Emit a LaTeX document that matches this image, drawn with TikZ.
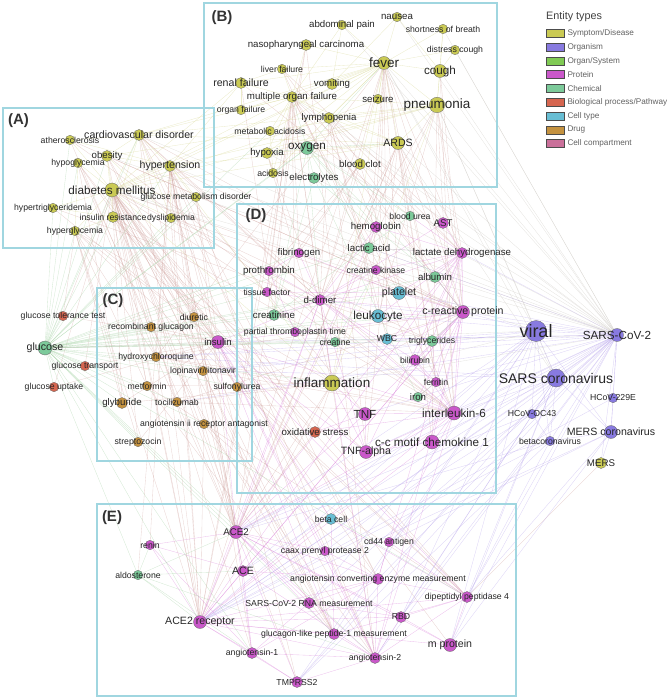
\documentclass[tikz,border=0pt]{standalone}
\usepackage{fontspec}
\setmainfont{Liberation Sans}
\usetikzlibrary{positioning}
\pgfdeclarelayer{bg}
\pgfsetlayers{bg,main}
\definecolor{symcol}{RGB}{202,202,84}
\definecolor{orgcol}{RGB}{136,122,224}
\definecolor{organcol}{RGB}{128,202,84}
\definecolor{protcol}{RGB}{202,88,202}
\definecolor{chemcol}{RGB}{124,202,154}
\definecolor{biocol}{RGB}{214,102,80}
\definecolor{cellcol}{RGB}{104,190,212}
\definecolor{drugcol}{RGB}{196,146,64}
\definecolor{compcol}{RGB}{202,112,154}
\definecolor{panelcol}{RGB}{160,214,224}
\definecolor{eYcol}{RGB}{212,212,140}
\definecolor{eBcol}{RGB}{206,160,156}
\definecolor{ePcol}{RGB}{214,120,214}
\definecolor{eVcol}{RGB}{180,160,234}
\definecolor{eGcol}{RGB}{160,208,160}
\definecolor{eKcol}{RGB}{200,196,190}

\begin{document}
\begin{tikzpicture}[x=1pt,y=-1pt]
  \tikzset{
    ent/.style={circle,draw=black!60,line width=0.3pt,inner sep=0pt},
    sym/.style={ent,fill=symcol},
    org/.style={ent,fill=orgcol},
    prot/.style={ent,fill=protcol},
    chem/.style={ent,fill=chemcol},
    bio/.style={ent,fill=biocol},
    celltype/.style={ent,fill=cellcol},
    drug/.style={ent,fill=drugcol},
    dotS/.style={minimum size=9.5pt},
    dotM/.style={minimum size=11pt},
    dotL/.style={minimum size=13pt},
    dotX/.style={minimum size=15.5pt},
    txS/.style={font=\fontsize{8.7}{9}\selectfont,text=black!85,inner sep=0pt},
    txM/.style={font=\fontsize{9.7}{10}\selectfont,text=black!85,inner sep=0pt},
    txL/.style={font=\fontsize{10.6}{11}\selectfont,text=black!85,inner sep=0pt},
    txX/.style={font=\fontsize{11.7}{12}\selectfont,text=black!85,inner sep=0pt},
    txH/.style={font=\fontsize{13.5}{14}\selectfont,text=black!85,inner sep=0pt},
    panel/.style={draw=panelcol,line width=1.2pt},
    plabel/.style={font=\fontsize{15}{16}\selectfont\bfseries,text=black!80,inner sep=0pt},
    swatch/.style={rectangle,draw=black!70,line width=0.6pt,minimum width=18pt,minimum height=8pt,inner sep=0pt},
    legtxt/.style={font=\fontsize{8.2}{9}\selectfont,text=black!62,inner sep=0pt,anchor=west},
    edge/.style={line width=0.35pt,draw opacity=0.45},
    eY/.style={edge,draw=eYcol},
    eB/.style={edge,draw=eBcol},
    eP/.style={edge,draw=ePcol},
    eV/.style={edge,draw=eVcol},
    eG/.style={edge,draw=eGcol},
    eK/.style={edge,draw=eKcol}
  }
  \useasboundingbox (0,0) rectangle (669,700);

  % panels
  \draw[panel] (3,108) rectangle (214,248);
  \draw[panel] (204,3) rectangle (497,187);
  \draw[panel] (97,288) rectangle (252,461);
  \draw[panel] (237,204) rectangle (496,493);
  \draw[panel] (97,504) rectangle (516,696);
  \node[plabel] (pA) at (18.5,121) {(A)};
  \node[plabel] (pB) at (222,18) {(B)};
  \node[plabel] (pC) at (113,301) {(C)};
  \node[plabel] (pD) at (256,216) {(D)};
  \node[plabel] (pE) at (112,518) {(E)};

  % (A)
  \node[sym,dotM,label={[txL]center:cardiovascular disorder}] (cvd) at (139,135) {};
  \node[sym,dotS,label={[txS]center:atherosclerosis}] (athero) at (70,140) {};
  \node[sym,dotM,label={[txM]center:obesity}] (obesity) at (107,156) {};
  \node[sym,dotS,label={[txS]center:hypoglycemia}] (hypogly) at (78,163) {};
  \node[sym,dotM,label={[txL]center:hypertension}] (htn) at (170,166) {};
  \node[sym,minimum size=14pt,label={[txX]center:diabetes mellitus}] (dm) at (112,190) {};
  \node[sym,dotS,label={[txS]center:glucose metabolism disorder}] (gmd) at (196,197) {};
  \node[sym,dotS,label={[txS]center:hypertriglyceridemia}] (hypertri) at (53,208) {};
  \node[sym,dotM,label={[txS]center:insulin resistance}] (insres) at (113,217) {};
  \node[sym,dotS,label={[txS]center:dyslipidemia}] (dyslip) at (171,218) {};
  \node[sym,dotS,label={[txS]center:hyperglycemia}] (hypergly) at (75,231) {};

  % (B)
  \node[sym,dotS,label={[txM]center:abdominal pain}] (abdpain) at (342,25) {};
  \node[sym,dotS,label={[txM]center:nausea}] (nausea) at (397,17) {};
  \node[sym,dotS,label={[txS]center:shortness of breath}] (sob) at (443,29) {};
  \node[sym,dotM,label={[txM]center:nasopharyngeal carcinoma}] (npc) at (306,45) {};
  \node[sym,dotS,label={[txS]center:distress cough}] (dcough) at (455,50) {};
  \node[sym,dotL,label={[txH]center:fever}] (fever) at (384,63) {};
  \node[sym,dotL,label={[txX]center:cough}] (cough) at (440,71) {};
  \node[sym,dotS,label={[txS]center:liver failure}] (liverf) at (282,69) {};
  \node[sym,dotM,label={[txL]center:renal failure}] (renalf) at (241,83) {};
  \node[sym,dotM,label={[txM]center:vomiting}] (vomit) at (332,84) {};
  \node[sym,dotM,label={[txM]center:multiple organ failure}] (mof) at (292,97) {};
  \node[sym,dotS,label={[txM]center:seizure}] (seizure) at (378,99) {};
  \node[sym,dotX,label={[txH]center:pneumonia}] (pneu) at (437,105) {};
  \node[sym,dotS,label={[txS]center:organ failure}] (organf) at (241,110) {};
  \node[sym,dotM,label={[txM]center:lymphopenia}] (lympho) at (329,118) {};
  \node[sym,dotS,label={[txS]center:metabolic acidosis}] (metacid) at (270,131) {};
  \node[sym,dotL,label={[txL]center:ARDS}] (ards) at (398,143) {};
  \node[chem,dotL,label={[txX]center:oxygen}] (oxygen) at (307,148) {};
  \node[sym,dotM,label={[txM]center:hypoxia}] (hypoxia) at (267,153) {};
  \node[sym,dotM,label={[txM]center:blood clot}] (clot) at (360,164) {};
  \node[sym,dotS,label={[txS]center:acidosis}] (acidosis) at (273,173) {};
  \node[chem,dotM,label={[txM]center:electrolytes}] (electro) at (314,178) {};

  % (C)
  \node[bio,dotS,label={[txS]center:glucose tolerance test}] (gtt) at (63,316) {};
  \node[chem,minimum size=14pt,label={[txL]center:glucose}] (glucose) at (45,348) {};
  \node[bio,dotS,label={[txS]center:glucose transport}] (gtrans) at (85,366) {};
  \node[bio,dotS,label={[txS]center:glucose uptake}] (guptake) at (54,387) {};
  \node[drug,dotS,label={[txS]center:recombinant glucagon}] (rglucagon) at (151,327) {};
  \node[drug,dotS,label={[txS]center:diuretic}] (diuretic) at (194,317) {};
  \node[prot,dotL,label={[txM]center:insulin}] (insulin) at (218,342) {};
  \node[drug,dotS,label={[txS]center:hydroxychloroquine}] (hcq) at (156,357) {};
  \node[drug,dotS,label={[txS]center:lopinavir/ritonavir}] (lpvr) at (203,371) {};
  \node[drug,dotS,label={[txS]center:metformin}] (metformin) at (147,386) {};
  \node[drug,dotS,label={[txS]center:sulfonylurea}] (sulfonyl) at (237,387) {};
  \node[drug,dotM,label={[txM]center:glyburide}] (glyburide) at (122,403) {};
  \node[drug,dotS,label={[txS]center:tocilizumab}] (tocil) at (177,402) {};
  \node[drug,dotS,label={[txS]center:angiotensin ii receptor antagonist}] (arb) at (204,424) {};
  \node[drug,dotS,label={[txS]center:streptozocin}] (strepto) at (138,442) {};

  % (D)
  \node[chem,dotS,label={[txS]center:blood urea}] (burea) at (410,216) {};
  \node[prot,dotM,label={[txM]center:AST}] (ast) at (443,223) {};
  \node[prot,dotM,label={[txM]center:hemoglobin}] (hemo) at (376,227) {};
  \node[chem,dotM,label={[txM]center:lactic acid}] (lactic) at (369,248) {};
  \node[prot,dotM,label={[txM]center:lactate dehydrogenase}] (ldh) at (462,253) {};
  \node[prot,dotS,label={[txM]center:fibrinogen}] (fibrin) at (299,253) {};
  \node[prot,dotS,label={[txM]center:prothrombin}] (prothr) at (269,271) {};
  \node[prot,dotS,label={[txS]center:creatine kinase}] (ck) at (376,270) {};
  \node[chem,dotM,label={[txM]center:albumin}] (albumin) at (435,277) {};
  \node[prot,dotS,label={[txS]center:tissue factor}] (tf) at (267,292) {};
  \node[prot,dotM,label={[txM]center:d-dimer}] (ddimer) at (320,300) {};
  \node[celltype,dotL,label={[txL]center:platelet}] (platelet) at (399,293) {};
  \node[chem,dotM,label={[txM]center:creatinine}] (creatinine) at (274,315) {};
  \node[celltype,dotL,label={[txX]center:leukocyte}] (leuko) at (378,316) {};
  \node[prot,dotL,label={[txL]center:c-reactive protein}] (crp) at (463,312) {};
  \node[prot,dotS,label={[txS]center:partial thromboplastin time}] (ptt) at (295,332) {};
  \node[chem,dotS,label={[txS]center:creatine}] (creatine) at (335,342) {};
  \node[celltype,dotM,label={[txS]center:WBC}] (wbc) at (387,339) {};
  \node[chem,dotM,label={[txS]center:triglycerides}] (trig) at (432,341) {};
  \node[prot,dotM,label={[txS]center:bilirubin}] (bili) at (415,360) {};
  \node[sym,minimum size=16pt,label={[txH]center:inflammation}] (inflam) at (332,383) {};
  \node[prot,dotS,label={[txS]center:ferritin}] (ferritin) at (436,382) {};
  \node[chem,dotS,label={[txM]center:iron}] (iron) at (418,397) {};
  \node[prot,dotL,label={[txX]center:TNF}] (tnf) at (365,414) {};
  \node[prot,minimum size=14pt,label={[txX]center:interleukin-6}] (il6) at (454,413) {};
  \node[bio,dotM,label={[txM]center:oxidative stress}] (oxstress) at (315,432) {};
  \node[prot,minimum size=14pt,label={[txX]center:c-c motif chemokine 1}] (ccl) at (432,442) {};
  \node[prot,dotL,label={[txL]center:TNF-alpha}] (tnfa) at (366,452) {};

  % organisms
  \node[org,minimum size=21pt,label={[font=\fontsize{18}{19}\selectfont,text=black!85,inner sep=0pt]center:viral}] (viral) at (536,331) {};
  \node[org,dotL,label={[txX]center:SARS-CoV-2}] (sarscov2) at (617,335) {};
  \node[org,minimum size=18pt,label={[font=\fontsize{14}{15}\selectfont,text=black!85,inner sep=0pt]center:SARS coronavirus}] (sarscov) at (556,378) {};
  \node[org,dotS,label={[txS]center:HCoV-229E}] (hcov229) at (613,398) {};
  \node[org,dotS,label={[txS]center:HCoV-OC43}] (hcovoc) at (532,414) {};
  \node[org,dotL,label={[txL]center:MERS coronavirus}] (merscov) at (611,432) {};
  \node[org,dotS,label={[txS]center:betacoronavirus}] (betacov) at (550,441) {};
  \node[sym,dotM,label={[txM]center:MERS}] (mers) at (601,463) {};

  % (E)
  \node[celltype,dotM,label={[txS]center:beta cell}] (betacell) at (331,519) {};
  \node[prot,dotL,label={[txM]center:ACE2}] (ace2) at (236,532) {};
  \node[prot,dotS,label={[txS]center:renin}] (renin) at (150,545) {};
  \node[prot,dotS,label={[txS]center:cd44 antigen}] (cd44) at (389,542) {};
  \node[prot,dotS,label={[txS]center:caax prenyl protease 2}] (caax) at (325,551) {};
  \node[chem,dotS,label={[txS]center:aldosterone}] (aldo) at (138,575) {};
  \node[prot,dotM,label={[txL]center:ACE}] (ace) at (243,571) {};
  \node[prot,dotM,label={[txS]center:angiotensin converting enzyme measurement}] (acem) at (378,579) {};
  \node[prot,dotM,label={[txS]center:dipeptidyl peptidase 4}] (dpp4) at (467,597) {};
  \node[prot,dotM,label={[txS]center:SARS-CoV-2 RNA measurement}] (rnam) at (309,603) {};
  \node[prot,dotL,label={[txL]center:ACE2 receptor}] (ace2r) at (200,622) {};
  \node[prot,dotM,label={[txS]center:RBD}] (rbd) at (401,617) {};
  \node[prot,dotM,label={[txS]center:glucagon-like peptide-1 measurement}] (glp1m) at (334,634) {};
  \node[prot,dotL,label={[txL]center:m protein}] (mprot) at (450,645) {};
  \node[prot,dotM,label={[txS]center:angiotensin-1}] (ang1) at (252,653) {};
  \node[prot,dotM,label={[txS]center:angiotensin-2}] (ang2) at (375,658) {};
  \node[prot,dotM,label={[txS]center:TMPRSS2}] (tmprss) at (297,682) {};

  % legend
  \node[anchor=west,font=\fontsize{10.8}{12}\selectfont,text=black!75,inner sep=0pt] (ltitle) at (546,17) {Entity types};
  \node[swatch,fill=symcol] (lsym) at (555,33.3) {};
  \node[swatch,fill=orgcol,below=5.2pt of lsym] (lorg) {};
  \node[swatch,fill=organcol,below=5.2pt of lorg] (lorgan) {};
  \node[swatch,fill=protcol,below=5.2pt of lorgan] (lprot) {};
  \node[swatch,fill=chemcol,below=5.2pt of lprot] (lchem) {};
  \node[swatch,fill=biocol,below=5.2pt of lchem] (lbio) {};
  \node[swatch,fill=cellcol,below=5.2pt of lbio] (lcell) {};
  \node[swatch,fill=drugcol,below=5.2pt of lcell] (ldrug) {};
  \node[swatch,fill=compcol,below=5.2pt of ldrug] (lcomp) {};
  \node[legtxt,right=3pt of lsym] (tsym) {Symptom/Disease};
  \node[legtxt,right=3pt of lorg] (torg) {Organism};
  \node[legtxt,right=3pt of lorgan] (torgan) {Organ/System};
  \node[legtxt,right=3pt of lprot] (tprot) {Protein};
  \node[legtxt,right=3pt of lchem] (tchem) {Chemical};
  \node[legtxt,right=3pt of lbio] (tbio) {Biological process/Pathway};
  \node[legtxt,right=3pt of lcell] (tcell) {Cell type};
  \node[legtxt,right=3pt of ldrug] (tdrug) {Drug};
  \node[legtxt,right=3pt of lcomp] (tcomp) {Cell compartment};

  % edges
  \begin{pgfonlayer}{bg}
    \foreach \a/\b in {fever/cough,fever/sob,fever/nausea,fever/abdpain,fever/npc,fever/vomit,fever/seizure,fever/pneu,
      fever/ards,fever/lympho,fever/mof,fever/renalf,fever/liverf,fever/hypoxia,fever/dcough,fever/organf,fever/clot,
      fever/metacid,fever/acidosis,pneu/cough,pneu/ards,pneu/sob,pneu/lympho,pneu/mof,pneu/hypoxia,cough/sob,
      cough/dcough,cough/nausea,mof/renalf,mof/liverf,mof/organf,mof/ards,mof/lympho,mof/metacid,mof/hypoxia,
      mof/acidosis,mof/npc,mof/abdpain,ards/lympho,ards/hypoxia,lympho/seizure,vomit/nausea,vomit/abdpain,
      renalf/liverf,renalf/organf,metacid/acidosis,hypoxia/acidosis,dm/fever,dm/pneu,dm/ards,dm/mof,htn/fever,
      htn/pneu,cvd/fever,cvd/pneu,cvd/mof,obesity/pneu,htn/ards,dm/lympho,cvd/ards,dm/renalf,htn/renalf,
      dm/htn,dm/cvd,dm/obesity,dm/hypogly,dm/hypergly,dm/insres,dm/dyslip,dm/gmd,dm/hypertri,dm/athero,htn/cvd,
      htn/obesity,htn/dyslip,htn/gmd,htn/athero,cvd/athero,cvd/obesity,cvd/dyslip,obesity/insres,obesity/dyslip,
      insres/hypergly,insres/hypertri,hypogly/hypergly,cvd/insres,dm/inflam,htn/inflam,fever/inflam,pneu/inflam}
      \draw[eY] (\a) -- (\b);
    \foreach \a/\b in {fever/ddimer,fever/crp,fever/ldh,fever/leuko,fever/il6,fever/tnf,fever/ferritin,fever/wbc,
      fever/hcq,fever/ace2r,fever/platelet,fever/lactic,pneu/crp,pneu/ldh,pneu/il6,pneu/ace2,pneu/ddimer,pneu/leuko,
      pneu/ccl,cough/crp,cough/il6,mof/ddimer,mof/crp,mof/il6,mof/ace2r,mof/ldh,mof/inflam,mof/platelet,
      mof/creatinine,mof/tf,mof/prothr,mof/ptt,mof/fibrin,ards/ddimer,ards/crp,ards/il6,ards/ace2,ards/inflam,
      ards/ccl,ards/ldh,ards/tnfa,ards/ace2r,ards/ferritin,lympho/ddimer,lympho/crp,lympho/il6,lympho/leuko,
      lympho/ldh,lympho/tnfa,lympho/wbc,npc/ace2r,npc/ace2,npc/ang2,hypoxia/ddimer,hypoxia/inflam,
      renalf/creatinine,renalf/burea,liverf/ast,liverf/bili,liverf/albumin,clot/ddimer,clot/platelet,clot/fibrin,
      clot/prothr,clot/tf,dm/insulin,dm/metformin,dm/glyburide,dm/strepto,dm/rglucagon,dm/diuretic,dm/sulfonyl,
      dm/hcq,dm/tocil,dm/arb,dm/lpvr,dm/ace2,dm/ace2r,dm/ang1,dm/ang2,dm/dpp4,dm/glp1m,dm/acem,dm/ddimer,dm/crp,
      dm/il6,dm/tmprss,dm/betacell,dm/mprot,htn/arb,htn/diuretic,htn/ace2,htn/ace,htn/ang1,htn/ang2,htn/renin,
      htn/aldo,htn/ace2r,htn/acem,htn/crp,htn/ddimer,htn/hcq,htn/insulin,htn/tmprss,cvd/ace2r,cvd/ddimer,cvd/crp,
      cvd/ang2,cvd/acem,cvd/ace2,cvd/il6,cvd/tnf,obesity/ace2r,obesity/insulin,obesity/il6,obesity/crp,
      obesity/glp1m,hypergly/insulin,hypergly/metformin,hypergly/glyburide,hypergly/strepto,hypergly/ace2r,
      hypergly/inflam,hypergly/hcq,hypergly/dpp4,insres/insulin,insres/metformin,insres/glp1m,insres/dpp4,
      insres/il6,insres/tnfa,hypogly/insulin,hypogly/glyburide,hypogly/sulfonyl,hypogly/rglucagon,hypogly/hcq,
      gmd/insulin,gmd/ace2,gmd/glp1m,dyslip/crp,dyslip/ace2r,dyslip/trig,hypertri/trig,hypertri/insulin,
      athero/crp,athero/il6,athero/ace2,inflam/ace2,inflam/ace2r,inflam/ang2,inflam/hcq,inflam/tocil,
      inflam/glyburide,inflam/metformin,inflam/oxstress,mers/dpp4,hcq/ace2,lpvr/ace2,hcq/ace2r,lpvr/rnam,
      tocil/il6,arb/ace2,arb/ang2,arb/ace2r,arb/acem,sulfonyl/dpp4,metformin/dpp4,metformin/glp1m,
      strepto/insulin,glyburide/insulin,rglucagon/insulin,rglucagon/glp1m,diuretic/ace2,hcq/crp,hcq/il6,
      lpvr/il6,tocil/crp,gtt/dm,gtt/insulin,gtrans/insulin,guptake/insulin,gtrans/dm,guptake/dm,gtt/hypergly,
      oxstress/ace2,oxstress/dm,inflam/crp,inflam/il6,inflam/ddimer}
      \draw[eB] (\a) -- (\b);
    \foreach \a/\b in {ddimer/fibrin,ddimer/prothr,ddimer/tf,ddimer/ptt,ddimer/crp,ddimer/ldh,ddimer/ferritin,
      ddimer/il6,ddimer/platelet,ddimer/leuko,ddimer/tnfa,ddimer/creatinine,ddimer/ast,ddimer/hemo,ddimer/ck,
      ddimer/bili,ldh/crp,ldh/ast,ldh/hemo,ldh/ck,ldh/ferritin,ldh/il6,ldh/albumin,ldh/bili,ldh/burea,ldh/leuko,
      ldh/platelet,ldh/lactic,ldh/trig,ldh/tnfa,crp/il6,crp/ferritin,crp/leuko,crp/platelet,crp/wbc,crp/trig,
      crp/bili,crp/albumin,crp/ccl,crp/tnf,crp/iron,il6/tnf,il6/tnfa,il6/ccl,il6/ferritin,il6/iron,il6/oxstress,
      il6/bili,ferritin/iron,ferritin/bili,ferritin/trig,tnf/tnfa,tnf/inflam,tnf/oxstress,tnfa/inflam,tnfa/ccl,
      fibrin/prothr,prothr/tf,prothr/ptt,fibrin/platelet,tf/platelet,ddimer/ace2,ddimer/ace2r,crp/ace2r,il6/ace2,
      il6/ace2r,il6/ang2,tnf/ace2,ccl/ace2r,ldh/ace2,crp/ang2,ferritin/acem,ddimer/ang2,insulin/ace2,insulin/dpp4,
      insulin/glp1m,insulin/ang2,insulin/crp,insulin/il6,insulin/tnfa,insulin/ddimer,ace2/ace2r,ace2/ang1,
      ace2/ang2,ace2/ace,ace2/tmprss,ace2/acem,ace2/renin,ace2/rnam,ace2/rbd,ace2/caax,ace2/glp1m,ace2r/ang1,
      ace2r/ang2,ace2r/tmprss,ace2r/rbd,ace2r/dpp4,ace2r/mprot,ace2r/glp1m,ace2r/acem,ace2r/renin,ace2r/ace,
      ang1/ang2,ang1/tmprss,ang1/renin,ang1/ace,ang1/acem,ang2/acem,ang2/dpp4,ang2/tmprss,ang2/ace,ang2/caax,
      ang2/rbd,acem/dpp4,acem/ace,acem/cd44,acem/caax,acem/rnam,dpp4/glp1m,dpp4/mprot,dpp4/cd44,dpp4/rbd,
      renin/ace,glp1m/ang2,mprot/rbd,rnam/rbd,insulin/betacell,betacell/glp1m,betacell/dpp4,ace2/hemo,
      ace2r/ldh,ace/crp,caax/insulin,cd44/il6,mprot/ace2,rnam/ang1}
      \draw[eP] (\a) -- (\b);
    \foreach \a/\b in {viral/sarscov2,viral/sarscov,viral/merscov,viral/betacov,viral/hcovoc,sarscov2/sarscov,
      sarscov2/merscov,sarscov2/hcov229,sarscov2/betacov,sarscov2/hcovoc,sarscov2/mers,merscov/hcov229,
      merscov/mers,merscov/betacov,sarscov/merscov,sarscov/betacov,hcovoc/betacov,sarscov2/ace2,sarscov2/ace2r,
      sarscov2/tmprss,sarscov2/rbd,sarscov2/mprot,sarscov2/dpp4,sarscov2/acem,sarscov2/rnam,sarscov2/ang2,
      sarscov2/ace,viral/ace2,viral/ace2r,viral/rbd,viral/mprot,viral/tmprss,viral/rnam,sarscov/ace2,
      sarscov/ace2r,sarscov/tmprss,sarscov/mprot,sarscov/dpp4,sarscov/rbd,merscov/dpp4,merscov/ace2r,
      merscov/mprot,merscov/cd44,betacov/ace2r,betacov/dpp4,betacov/tmprss,hcovoc/ace2,hcov229/ace2r,
      sarscov2/hcq,sarscov2/lpvr,sarscov2/tocil,sarscov2/insulin,viral/hcq,viral/lpvr,viral/il6,sarscov/hcq,
      sarscov/lpvr,sarscov/il6,sarscov2/crp,sarscov2/il6,sarscov2/ldh,sarscov2/ddimer,sarscov2/ferritin,
      sarscov2/leuko,sarscov2/tnf,sarscov2/ccl,sarscov2/platelet,sarscov2/lactic,sarscov2/wbc,sarscov2/tnfa,
      viral/crp,viral/ace,sarscov/ang2,sarscov2/caax,sarscov2/cd44,viral/glp1m,hcovoc/ace2r,betacov/ace2}
      \draw[eV] (\a) -- (\b);
    \foreach \a/\b in {glucose/hypergly,glucose/insres,glucose/dm,glucose/htn,glucose/cvd,glucose/obesity,
      glucose/athero,glucose/hypogly,glucose/hypertri,glucose/gmd,glucose/dyslip,glucose/oxygen,glucose/acidosis,
      glucose/metacid,glucose/insulin,glucose/rglucagon,glucose/diuretic,glucose/hcq,glucose/metformin,
      glucose/glyburide,glucose/tocil,glucose/sulfonyl,glucose/strepto,glucose/arb,glucose/lpvr,glucose/tf,
      glucose/prothr,glucose/ddimer,glucose/creatinine,glucose/ptt,glucose/creatine,glucose/crp,glucose/lactic,
      glucose/trig,glucose/inflam,glucose/platelet,glucose/leuko,glucose/aldo,glucose/ace2r,glucose/ang1,
      glucose/ang2,glucose/ace2,glucose/glp1m,glucose/dpp4,glucose/gtt,glucose/gtrans,glucose/guptake,
      glucose/fibrin,glucose/albumin,glucose/wbc,oxygen/hypoxia,oxygen/electro,oxygen/acidosis,oxygen/lactic,
      oxygen/creatinine,oxygen/hemo,oxygen/burea,oxygen/albumin,oxygen/ards,oxygen/mof,oxygen/fever,
      electro/creatinine,electro/albumin,electro/iron,creatinine/creatine,creatinine/burea,lactic/ldh,
      albumin/crp,aldo/renin,aldo/ace2,aldo/ang2,aldo/ace2r,aldo/ace,aldo/ang1,oxygen/ddimer,creatine/ck,
      trig/crp,iron/ferritin}
      \draw[eG] (\a) -- (\b);
    \foreach \a/\b in {sarscov2/fever,sarscov2/cough,sarscov2/pneu,sarscov2/dcough,sarscov2/sob,sarscov2/ards,
      sarscov2/lympho,sarscov2/mof,sarscov2/nausea,sarscov2/hypoxia,sarscov2/inflam,sarscov2/dm,sarscov2/htn,
      sarscov2/cvd,viral/fever,viral/pneu,viral/inflam,sarscov/pneu,sarscov/fever,sarscov2/abdpain,sarscov/ards,
      sarscov2/oxygen,sarscov2/glucose,viral/dm,sarscov2/obesity,sarscov2/gmd,viral/glucose,sarscov2/clot}
      \draw[eK] (\a) -- (\b);
  \end{pgfonlayer}
\end{tikzpicture}
\end{document}
